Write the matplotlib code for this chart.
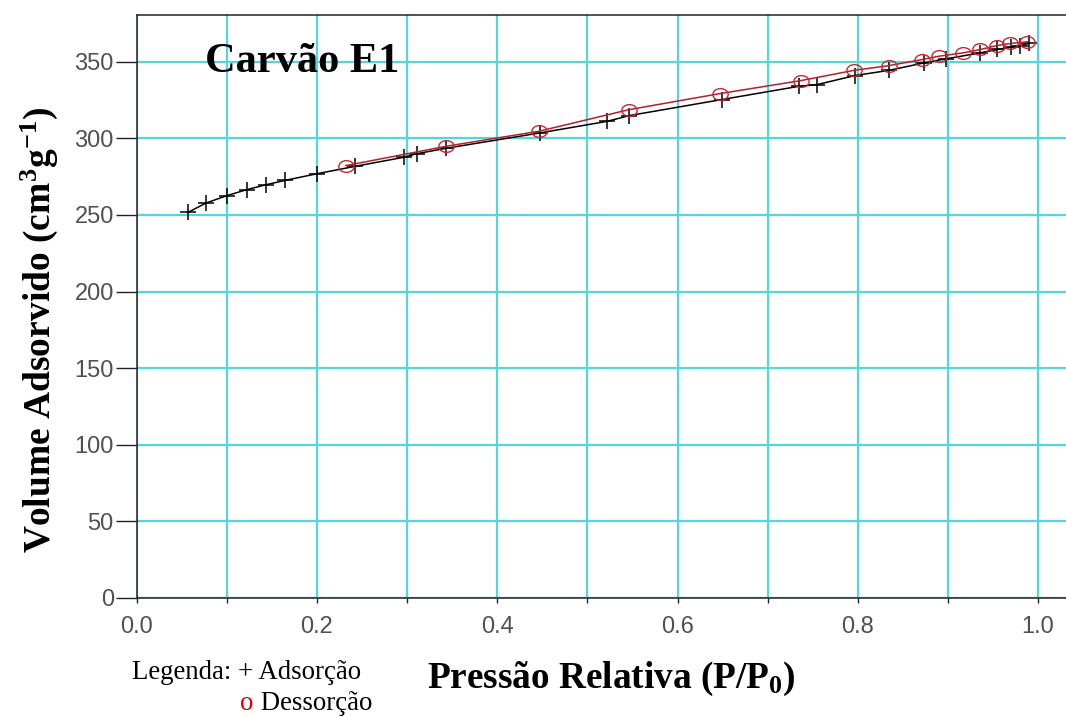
import matplotlib
matplotlib.use("Agg")
import matplotlib.pyplot as plt
from matplotlib.path import Path
from matplotlib.transforms import Affine2D

# Isotherm data (N2, carvão E1)
p_ads = [0.057, 0.077, 0.100, 0.122, 0.144, 0.165, 0.200, 0.242, 0.296, 0.311,
         0.343, 0.447, 0.522, 0.546, 0.649, 0.735, 0.755, 0.797, 0.835, 0.873,
         0.898, 0.936, 0.955, 0.970, 0.980, 0.990]
v_ads = [251.7, 257.8, 262.6, 266.5, 269.8, 272.6, 276.9, 281.7, 287.6, 290.0,
         293.5, 303.5, 311.1, 314.8, 325.3, 334.0, 335.1, 341.0, 344.4, 349.2,
         351.9, 355.8, 358.0, 359.5, 360.5, 362.0]

p_des = [0.232, 0.343, 0.446, 0.546, 0.647, 0.737, 0.796, 0.835, 0.871, 0.890,
         0.917, 0.936, 0.954, 0.969, 0.988]
v_des = [282.2, 294.8, 304.6, 318.7, 329.2, 337.7, 344.4, 347.5, 351.4, 353.6,
         355.8, 358.0, 360.5, 361.9, 363.0]

x_ticks = [0.0, 0.2, 0.4, 0.6, 0.8, 1.0]
x_tick_labels = ["0.0", "0.2", "0.4", "0.6", "0.8", "1.0"]
x_minor = [0.1, 0.3, 0.5, 0.7, 0.9]
y_ticks = [0, 50, 100, 150, 200, 250, 300, 350]

plt.rcParams["mathtext.fontset"] = "custom"
plt.rcParams["mathtext.rm"] = "Liberation Serif:bold"
plt.rcParams["mathtext.bf"] = "Liberation Serif:bold"
plt.rcParams["mathtext.it"] = "Liberation Serif:bold"

fig = plt.figure(figsize=(10.66, 7.17), dpi=100)
ax = fig.add_axes([136.7 / 1066, 1 - 598 / 717, 1 - 136.7 / 1066, (598 - 15) / 717])

grid_color = "#55d6da"
ax.set_xlim(0, 1.031)
ax.set_ylim(0, 380.5)
ax.set_xticks(x_ticks)
ax.set_xticklabels(x_tick_labels)
ax.set_xticks(x_minor, minor=True)
ax.set_yticks(y_ticks)
ax.grid(True, which="both", axis="x", color=grid_color, linewidth=1.6)
ax.grid(True, which="major", axis="y", color=grid_color, linewidth=1.6)
ax.set_axisbelow(True)

ax.spines["right"].set_visible(False)
for side in ("left", "bottom", "top"):
    ax.spines[side].set_color("#222222")
    ax.spines[side].set_linewidth(1.1)

ax.tick_params(axis="y", which="major", direction="out", length=15, width=1.0,
               color="#222222", pad=1.5, labelcolor="#505050", labelsize=17)
ax.tick_params(axis="x", which="both", direction="out", length=3.8, width=1.0,
               color="#222222", pad=9, labelcolor="#505050", labelsize=17)
for lab in ax.get_xticklabels() + ax.get_yticklabels():
    lab.set_fontfamily("Liberation Sans")

# Circle marker stretched horizontally
ellipse = Path.unit_circle().transformed(Affine2D().scale(1.3, 1.0))

ax.plot(p_ads, v_ads, color="black", linewidth=1.1, marker="+",
        markersize=11, markeredgewidth=1.1, zorder=3)
ax.plot(p_des, v_des, color="#b3202a", linewidth=1.1, marker=ellipse,
        markersize=11, markerfacecolor="none", markeredgecolor="#c8282e",
        markeredgewidth=1.0, zorder=4)

serif = "Liberation Serif"
fig.text(205 / 1066, 1 - 72 / 717, "Carvão E1", family=serif, weight="bold",
         size=30.5, ha="left", va="baseline")

fig.text(611 / 1066, 1 - 688 / 717, "Pressão Relativa (P/P$_\\mathbf{0}$)",
         family=serif, weight="bold", size=26.8, ha="center", va="baseline")

fig.text(50 / 1066, 1 - 330 / 717,
         "Volume Adsorvido (cm$^\\mathbf{3}$g$^\\mathbf{-1}$)",
         family=serif, weight="bold", size=27, rotation=90,
         ha="center", va="baseline", rotation_mode="anchor")

fig.text(132 / 1066, 1 - 679 / 717, "Legenda: + Adsorção", family=serif,
         size=19.3, ha="left", va="baseline")
fig.text(240 / 1066, 1 - 710 / 717, "o", family=serif, size=19.3,
         color="#e00000", ha="left", va="baseline")
fig.text(254 / 1066, 1 - 710 / 717, " Dessorção", family=serif, size=19.3,
         ha="left", va="baseline")

fig.savefig("out.png", dpi=100, facecolor="white")
